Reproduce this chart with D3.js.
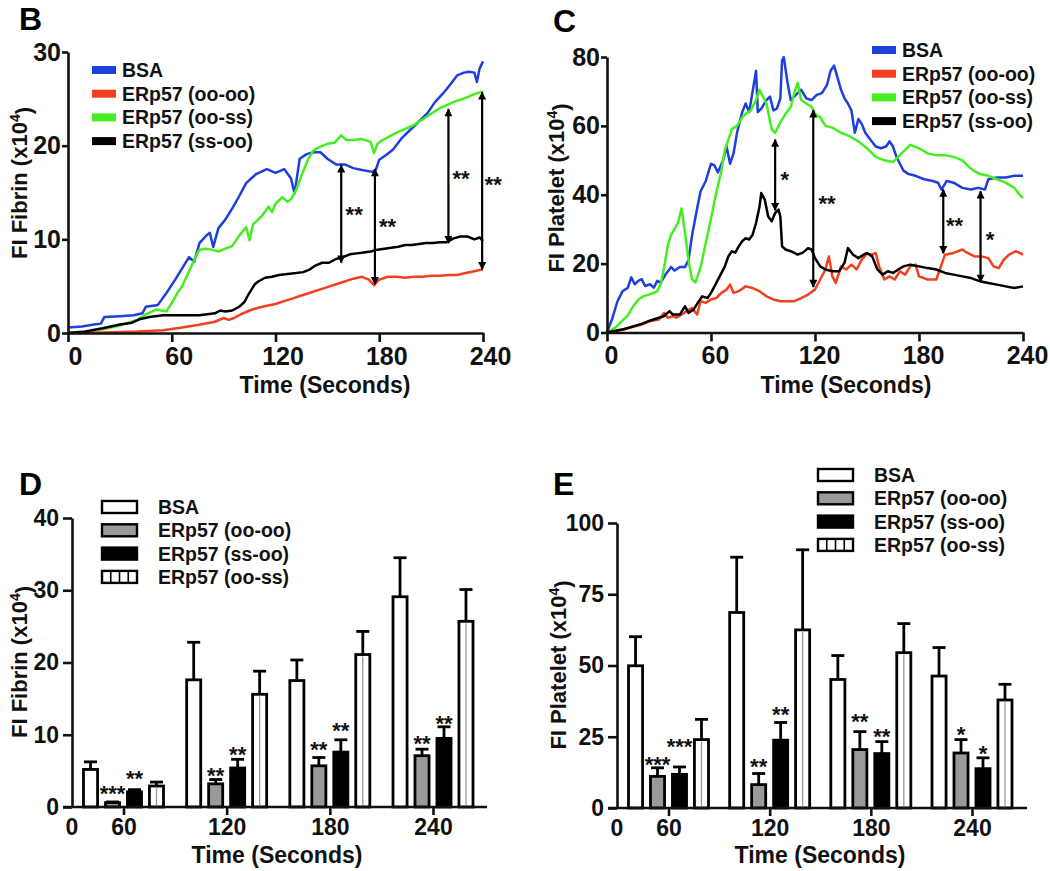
<!DOCTYPE html>
<html><head><meta charset="utf-8">
<script src="https://cdn.jsdelivr.net/npm/d3@7"></script>
<style>
body{margin:0;background:#fff;}
svg{display:block;font-family:"Liberation Sans",Arial,Helvetica,sans-serif;font-weight:bold;}
</style></head><body>
<svg id="chart" width="1050" height="871"></svg>
<script>
// ---------------- DATA ----------------
const timeTicks = [0, 60, 120, 180, 240];
const lineSeriesNames = ["BSA", "ERp57 (oo-oo)", "ERp57 (oo-ss)", "ERp57 (ss-oo)"];
const lineColors = ["#1e3fdc", "#f2401f", "#45ee20", "#000000"];

// Panel B: FI Fibrin (x10^4) vs time  [seconds, value]
const fibrinBSA = [[0,0.6],[8,0.7],[15,0.9],[19,1.0],[21,1.7],[30,1.8],[38,1.9],[43,2.1],[45,2.8],[52,3.0],[57,4.3],[62,5.7],[66,6.9],[70,8.1],[73,7.6],[76,9.6],[80,10.4],[82,10.7],[84,9.2],[87,11.2],[91,12.1],[95,13.3],[99,14.6],[103,16.0],[109,17.0],[115,17.5],[120,17.1],[125,17.5],[129,16.5],[131,14.9],[134,18.6],[138,19.1],[142,19.3],[146,19.3],[150,18.6],[155,18.0],[160,18.0],[165,17.6],[170,17.4],[176,17.2],[178,17.4],[180,18.5],[184,19.0],[188,19.6],[193,20.8],[198,21.7],[203,22.6],[208,23.5],[212,24.6],[217,25.6],[221,26.5],[225,27.5],[229,27.8],[232,27.9],[235,27.8],[236.5,26.8],[238,28.2],[240,29.0]];
const fibrinOOOO = [[0,0],[20,0.05],[40,0.15],[55,0.3],[65,0.55],[75,0.85],[85,1.2],[90,1.6],[93,1.4],[96,1.6],[100,2.0],[105,2.4],[110,2.7],[115,2.9],[120,3.1],[125,3.4],[130,3.7],[135,4.0],[140,4.3],[145,4.6],[150,4.9],[155,5.2],[160,5.5],[165,5.8],[170,6.0],[174,5.7],[177,5.1],[180,5.7],[185,6.0],[190,6.0],[195,5.9],[200,6.0],[205,6.0],[210,6.1],[215,6.1],[220,6.2],[225,6.2],[230,6.4],[235,6.6],[240,6.8]];
const fibrinOOSS = [[0,0],[10,0.1],[20,0.4],[30,0.8],[40,1.4],[45,2.0],[51,2.5],[54,2.4],[57,2.3],[60,3.2],[63,4.2],[66,5.0],[70,6.6],[73,7.8],[76,8.9],[80,9.0],[83,8.9],[87,8.7],[91,9.0],[95,9.3],[99,10.4],[103,11.3],[105,9.9],[107,11.6],[110,12.1],[113,12.7],[116,13.5],[118,12.9],[120,13.8],[124,14.5],[127,14.0],[129,14.3],[132,15.3],[135,16.8],[139,18.6],[142,19.5],[146,19.9],[150,20.2],[154,20.3],[158,21.1],[161,20.6],[165,20.6],[170,20.7],[175,20.4],[177,19.2],[179,20.2],[181,20.5],[186,21.0],[190,21.4],[195,21.8],[200,22.2],[205,22.8],[210,23.4],[215,24.0],[220,24.4],[225,24.8],[230,25.1],[235,25.5],[240,25.8]];
const fibrinSSOO = [[0,0],[10,0.15],[20,0.5],[30,0.9],[37,1.1],[42,1.5],[47,1.7],[55,1.9],[65,1.9],[76,1.9],[85,2.1],[88,2.4],[91,2.3],[95,2.4],[99,2.8],[102,3.3],[104,4.0],[106,4.6],[108,5.2],[110,5.5],[114,5.9],[118,6.0],[122,6.2],[127,6.3],[132,6.4],[136,6.5],[140,6.8],[143,7.2],[147,7.5],[151,7.5],[155,7.9],[159,8.1],[163,8.4],[167,8.5],[171,8.6],[175,8.7],[179,8.9],[183,9.0],[187,9.1],[191,9.2],[195,9.4],[199,9.4],[203,9.5],[207,9.6],[211,9.6],[215,9.7],[219,9.7],[223,10.1],[227,10.3],[231,10.3],[235,10.0],[238,10.2],[240,9.8]];
// arrows: [time, top value, bottom value]; stars: [time, value, label]
const fibrinArrows = [[158,17.9,7.5],[177.5,17.5,5.2],[220,23.9,9.6],[239.5,25.7,6.8]];
const fibrinLineStars = [[165.5,13.1,"**"],[184.8,11.9,"**"],[227.3,17.0,"**"],[246,16.3,"**"]];

// Panel C: FI Platelet (x10^4) vs time
const plateletBSA = [[0,0],[3,4],[6,9],[9,12],[12,13],[14,16],[16,14],[18,15],[20,15.5],[22,13.5],[25,14],[27,13],[29,15],[31,14.5],[34,17],[37,19],[39,18],[42,19],[45,19],[47,21],[49,28],[52,36],[54,41],[57,44],[60,49],[62,48.5],[64,46.5],[67,50],[69,54],[71,49],[73,52],[75,58],[78,64],[80,66.5],[82,64],[84,70],[86,76],[87,64],[89,65],[92,67.5],[94,68.5],[96,64.5],[98,65],[100,68],[101,79],[102,80],[104,73],[106,67.5],[109,69],[112,70.5],[115,68],[118,67.5],[121,69],[124,69.5],[127,72],[129,76],[131,77.5],[133,74],[135,70.5],[137,68],[139,66.5],[141,64.5],[143,58],[145,62],[147,60.5],[149,58],[152,56],[155,54],[158,53.5],[161,54],[163,55.5],[165,54],[167,51],[169,49],[171,47],[174,46],[178,45.5],[183,44.5],[188,44],[191,43.5],[193,41.5],[196,44],[200,43.5],[205,42],[210,41.5],[214,42],[218,41.5],[220,44.5],[225,45],[230,45],[235,45.5],[240,45.5]];
const plateletOOOO = [[0,0],[10,0.9],[20,2.3],[25,3.3],[30,3.8],[33,5.7],[35,4.3],[38,4.7],[40,4.3],[43,5.2],[46,6.2],[49,7.1],[52,5.2],[54,9.1],[57,8.6],[60,9.6],[63,10.0],[66,11.5],[69,12.5],[71,13.9],[73,11.5],[76,12.0],[80,13.4],[84,12.9],[88,12.0],[92,10.5],[96,9.6],[100,9.1],[104,9.1],[108,9.1],[112,10.0],[116,11.0],[120,12.5],[123,15.4],[126,18.3],[128,22.1],[130,16.3],[132,14.4],[135,19.2],[138,18.3],[141,19.7],[144,18.3],[147,21.2],[150,22.9],[153,22.6],[155,23.1],[157,19.2],[160,15.4],[163,16.3],[166,15.4],[169,17.8],[172,16.8],[175,19.2],[178,19.7],[180,16.3],[185,15.4],[190,15.4],[193,19.7],[195,22.6],[200,23.1],[205,24.1],[208,23.1],[212,22.1],[216,22.1],[220,21.6],[223,19.2],[226,18.7],[229,21.2],[232,22.6],[236,23.6],[240,22.6]];
const plateletOOSS = [[0,0],[5,1.5],[8,3],[12,5],[15,7.5],[18,9.5],[21,10.5],[24,11],[27,11.5],[29,12],[31,14],[33,19],[35,25],[37,28.5],[39,30],[41,32],[43,36],[45,29],[47,21],[49,15.5],[51,14.5],[54,19],[57,26],[60,33],[63,40.5],[66,47],[68,53],[70,56],[72,59],[75,60],[78,62.5],[80,63.5],[83,64.5],[86,67.5],[88,70.5],[90,68.5],[92,66.5],[95,59],[97,58],[100,61],[103,63.5],[106,65.5],[108,69.5],[110,72.5],[112,67.5],[115,66.5],[118,65.5],[120,63.5],[123,62.5],[126,60],[130,59.5],[135,58],[140,57],[145,55.5],[150,53.5],[155,51],[160,50],[165,49.5],[168,51],[171,52.5],[175,54.5],[180,53.5],[185,52],[190,51.5],[195,51.5],[200,51],[205,50],[210,47.5],[215,46],[220,45.5],[225,44.5],[230,43.5],[235,42],[238,40],[240,39]];
const plateletSSOO = [[0,0],[10,1],[20,2.5],[25,3.5],[30,4.3],[33,4.8],[36,6.2],[38,5.2],[42,5.2],[45,7.6],[47,5.7],[50,6.7],[53,9.1],[55,10.5],[58,10],[60,11.5],[62,13.4],[65,16.3],[68,19.2],[70,22.1],[72,23.6],[74,23.2],[76,25],[78,26.5],[80,27.4],[82,27],[84,28.4],[86,31.8],[88,36.6],[89,40.5],[91,38.6],[93,33.7],[95,32.3],[97,34.7],[99,35.7],[100,33.7],[101,25],[103,24.1],[106,23.6],[110,22.6],[113,23.2],[116,24.5],[118,24.1],[120,21.6],[123,19.2],[126,18.3],[130,17.8],[134,17.8],[137,20.2],[139,24.5],[142,22.6],[145,21.6],[148,22.6],[150,23.1],[153,22.1],[156,18.3],[159,16.8],[162,17.8],[165,17.3],[168,18.3],[171,19.2],[175,19.7],[180,19.2],[185,18.7],[190,18.3],[195,17.3],[200,16.8],[205,16.3],[210,15.8],[215,14.9],[220,14.4],[225,13.9],[230,13.4],[235,12.9],[240,13.4]];
const plateletArrows = [[97,56,35.5],[119,64.5,13.2],[194,41.5,23],[215.5,41,14.7]];
const plateletLineStars = [[102.5,45.8,"*"],[127,38.8,"**"],[200.5,32.3,"**"],[221,28.4,"*"]];

// Panels D/E: bar charts
const barGroups = ["60", "120", "180", "240"];
const barTickLabels = ["0", "60", "120", "180", "240"];
const barSeriesNames = ["BSA", "ERp57 (oo-oo)", "ERp57 (ss-oo)", "ERp57 (oo-ss)"];
const fibrinMean = {
  "BSA": [5.2, 17.6, 17.5, 29.1],
  "ERp57 (oo-oo)": [0.6, 3.2, 5.7, 7.1],
  "ERp57 (ss-oo)": [2.1, 5.4, 7.6, 9.5],
  "ERp57 (oo-ss)": [2.9, 15.6, 21.1, 25.7]
};
const fibrinSem = {
  "BSA": [1.05, 5.2, 2.85, 5.4],
  "ERp57 (oo-oo)": [0.1, 0.6, 1.15, 0.9],
  "ERp57 (ss-oo)": [0.3, 1.2, 1.7, 1.6],
  "ERp57 (oo-ss)": [0.55, 3.2, 3.2, 4.4]
};
const plateletMean = {
  "BSA": [49.9, 68.6, 45.1, 46.3],
  "ERp57 (oo-oo)": [11.1, 8.2, 20.5, 19.3],
  "ERp57 (ss-oo)": [11.8, 23.8, 19.1, 13.8],
  "ERp57 (oo-ss)": [24.0, 62.5, 54.5, 37.9]
};
const plateletSem = {
  "BSA": [10.2, 19.4, 8.4, 10.0],
  "ERp57 (oo-oo)": [3.0, 3.9, 6.3, 4.7],
  "ERp57 (ss-oo)": [2.6, 6.2, 4.2, 3.8],
  "ERp57 (oo-ss)": [7.1, 28.1, 10.2, 5.5]
};
// [group, series, label, baseline value]
const fibrinBarStars = [["60","ERp57 (oo-oo)","***",0.8],["60","ERp57 (ss-oo)","**",2.9],["120","ERp57 (oo-oo)","**",3.3],["120","ERp57 (ss-oo)","**",6.2],["180","ERp57 (oo-oo)","**",6.9],["180","ERp57 (ss-oo)","**",9.5],["240","ERp57 (oo-oo)","**",7.75],["240","ERp57 (ss-oo)","**",10.5]];
const plateletBarStars = [["60","ERp57 (oo-oo)","***",12.7],["60","ERp57 (ss-oo)","***",19],["120","ERp57 (oo-oo)","**",12],["120","ERp57 (ss-oo)","**",30.2],["180","ERp57 (oo-oo)","**",27.8],["180","ERp57 (ss-oo)","**",22.5],["240","ERp57 (oo-oo)","*",23.2],["240","ERp57 (ss-oo)","*",16.5]];

// ---------------- DRAWING ----------------
const svg = d3.select("#chart");
svg.append("rect").attr("width", 1050).attr("height", 871).attr("fill", "#fff");

const defs = svg.append("defs");
defs.append("marker").attr("id", "arrowhead")
  .attr("viewBox", "0 0 10 10").attr("refX", 9).attr("refY", 5)
  .attr("markerUnits", "userSpaceOnUse").attr("markerWidth", 9).attr("markerHeight", 8)
  .attr("orient", "auto-start-reverse")
  .append("path").attr("d", "M0,0 L10,5 L0,10 Z").attr("fill", "#000");

const INK = "#111";

function styleAxis(g, fontSize) {
  g.attr("font-family", null).attr("font-size", null);
  g.select(".domain").attr("stroke", INK).attr("stroke-width", 2.6);
  g.selectAll(".tick line").attr("stroke", INK).attr("stroke-width", 2.6);
  g.selectAll(".tick text").attr("fill", INK).style("font-size", fontSize + "px").style("font-weight", "bold");
}

function yTitle(x, y, main) {
  const t = svg.append("text")
    .attr("transform", `translate(${x},${y}) rotate(-90)`)
    .attr("text-anchor", "middle").attr("fill", INK).style("font-size", "22px");
  t.append("tspan").text(main + " (x10");
  t.append("tspan").text("4").attr("dy", "-0.5em").style("font-size", "14px");
  t.append("tspan").text(")").attr("dy", "0.5em");
}
function xTitle(x, y) {
  svg.append("text").attr("x", x).attr("y", y).attr("text-anchor", "middle")
    .attr("fill", INK).style("font-size", "23px").text("Time (Seconds)");
}
function panelLetter(x, y, s) {
  svg.append("text").attr("x", x).attr("y", y).attr("fill", "#000")
    .style("font-size", "32px").text(s);
}

function linePanel(cfg) {
  const x = d3.scaleLinear().domain([0, 240]).range([cfg.x0, cfg.x1]);
  const y = d3.scaleLinear().domain([0, cfg.yMax]).range([cfg.yB, cfg.yT]);
  const g = svg.append("g");

  const order = [0, 2, 1, 3];
  const line = d3.line().x(d => x(d[0])).y(d => y(d[1]));
  order.forEach(i => {
    g.append("path").datum(cfg.series[i]).attr("d", line)
      .attr("fill", "none").attr("stroke", lineColors[i])
      .attr("stroke-width", 2.5).attr("stroke-linejoin", "round");
  });

  const xa = g.append("g").attr("transform", `translate(0,${cfg.yB})`)
    .call(d3.axisBottom(x).tickValues(timeTicks).tickSize(9).tickSizeOuter(0).tickPadding(5));
  styleAxis(xa, 25);
  xa.selectAll(".tick text").attr("dx", cfg.labelDx);
  const ya = g.append("g").attr("transform", `translate(${cfg.x0},0)`)
    .call(d3.axisLeft(y).tickValues(cfg.yTicks).tickSize(6).tickSizeOuter(0).tickPadding(1));
  styleAxis(ya, 25);

  // arrows
  cfg.arrows.forEach(a => {
    g.append("line").attr("x1", x(a[0])).attr("x2", x(a[0]))
      .attr("y1", y(a[1])).attr("y2", y(a[2]))
      .attr("stroke", "#000").attr("stroke-width", 2.2)
      .attr("marker-start", "url(#arrowhead)").attr("marker-end", "url(#arrowhead)");
  });
  cfg.stars.forEach(s => {
    g.append("text").attr("x", x(s[0])).attr("y", y(s[1]) + 12)
      .attr("text-anchor", "middle").attr("fill", INK).style("font-size", "22px").text(s[2]);
  });

  // legend
  lineSeriesNames.forEach((name, i) => {
    const ry = cfg.legY + i * cfg.legStep;
    g.append("rect").attr("x", cfg.legX).attr("y", ry - 4).attr("width", 24).attr("height", 8)
      .attr("fill", lineColors[i]);
    g.append("text").attr("x", cfg.legX + 30).attr("y", ry + 7).attr("fill", INK)
      .style("font-size", "19.5px").text(name);
  });
}

function barPanel(cfg) {
  const xg = d3.scalePoint().domain(barGroups).range([cfg.c0, cfg.c1]);
  const sub = d3.scaleBand().domain(barSeriesNames).range([-40, 40]).paddingInner(0.36);
  const y = d3.scaleLinear().domain([0, cfg.yMax]).range([cfg.yB, cfg.yT]);
  const bw = sub.bandwidth();
  const g = svg.append("g");
  const fills = { "BSA": "#fff", "ERp57 (oo-oo)": "#9a9a9a", "ERp57 (ss-oo)": "#000", "ERp57 (oo-ss)": "#fff" };

  barSeriesNames.forEach(s => {
    barGroups.forEach((grp, gi) => {
      const v = cfg.mean[s][gi], e = cfg.sem[s][gi];
      const bx = xg(grp) + sub(s);
      const cx = bx + bw / 2;
      // error bar (upper only)
      g.append("line").attr("x1", cx).attr("x2", cx).attr("y1", y(v)).attr("y2", y(v + e))
        .attr("stroke", "#000").attr("stroke-width", 2.8);
      g.append("line").attr("x1", cx - 6.5).attr("x2", cx + 6.5).attr("y1", y(v + e)).attr("y2", y(v + e))
        .attr("stroke", "#000").attr("stroke-width", 2.8);
      g.append("rect").attr("x", bx).attr("y", y(v)).attr("width", bw).attr("height", y(0) - y(v))
        .attr("fill", fills[s]).attr("stroke", "#000").attr("stroke-width", 2.8);
      if (s === "ERp57 (oo-ss)") {
        g.append("line").attr("x1", cx).attr("x2", cx).attr("y1", y(v) + 2).attr("y2", y(0) - 1)
          .attr("stroke", "#9a9a9a").attr("stroke-width", 1.3);
      }
    });
  });

  cfg.stars.forEach(st => {
    const cx = xg(st[0]) + sub(st[1]) + bw / 2;
    g.append("text").attr("x", cx).attr("y", y(st[3])).attr("text-anchor", "middle")
      .attr("fill", INK).style("font-size", "22px").text(st[2]);
  });

  // axes
  g.append("line").attr("x1", cfg.xa0).attr("x2", cfg.xa1).attr("y1", cfg.yB).attr("y2", cfg.yB)
    .attr("stroke", INK).attr("stroke-width", 2.6);
  const xa = g.append("g").attr("transform", `translate(0,${cfg.yB})`)
    .call(d3.axisBottom(xg).tickSize(8).tickSizeOuter(0).tickPadding(4).tickFormat((d, i) => barTickLabels[i + 1]));
  styleAxis(xa, 23);
  xa.select(".domain").remove();
  g.append("text").attr("x", cfg.yAxisX).attr("y", cfg.yB + 12).attr("dy", "0.71em")
    .attr("text-anchor", "middle").attr("fill", INK).style("font-size", "23px").text(barTickLabels[0]);
  const ya = g.append("g").attr("transform", `translate(${cfg.yAxisX},0)`)
    .call(d3.axisLeft(y).tickValues(cfg.yTicks).tickSize(9).tickSizeOuter(0).tickPadding(4));
  styleAxis(ya, 23);

  // legend
  barSeriesNames.forEach((name, i) => {
    const ry = cfg.legY + i * cfg.legStep;
    g.append("rect").attr("x", cfg.legX).attr("y", ry - 6).attr("width", 35).attr("height", 12)
      .attr("fill", fills[name]).attr("stroke", "#000").attr("stroke-width", 2.4);
    if (name === "ERp57 (oo-ss)") {
      [1, 2, 3].forEach(k => {
        g.append("line").attr("x1", cfg.legX + k * 35 / 4).attr("x2", cfg.legX + k * 35 / 4)
          .attr("y1", ry - 6).attr("y2", ry + 6).attr("stroke", "#000").attr("stroke-width", 1.6);
      });
    }
    g.append("text").attr("x", cfg.legX + 56).attr("y", ry + 7).attr("fill", INK)
      .style("font-size", "19.5px").text(name);
  });
}

// Panel B
panelLetter(19, 30, "B");
linePanel({
  x0: 68, x1: 483, yB: 333, yT: 52, yMax: 30, yTicks: [0, 10, 20, 30], labelDx: 7,
  series: [fibrinBSA, fibrinOOOO, fibrinOOSS, fibrinSSOO],
  arrows: fibrinArrows, stars: fibrinLineStars,
  legX: 92, legY: 70, legStep: 23.7
});
yTitle(27, 183, "FI Fibrin");
xTitle(325, 393);

// Panel C
panelLetter(553, 32, "C");
linePanel({
  x0: 607, x1: 1023, yB: 332.5, yT: 57, yMax: 80, yTicks: [0, 20, 40, 60, 80], labelDx: 4,
  series: [plateletBSA, plateletOOOO, plateletOOSS, plateletSSOO],
  arrows: plateletArrows, stars: plateletLineStars,
  legX: 872, legY: 50, legStep: 23.7
});
yTitle(564, 188, "FI Platelet");
xTitle(846, 393);

// Panel D
panelLetter(19, 495, "D");
barPanel({
  c0: 123.5, c1: 433, yAxisX: 72, xa0: 63, xa1: 487, yB: 807, yT: 518, yMax: 40,
  yTicks: [0, 10, 20, 30, 40], mean: fibrinMean, sem: fibrinSem, stars: fibrinBarStars,
  legX: 102, legY: 507, legStep: 23.3
});
yTitle(27, 662, "FI Fibrin");
xTitle(277, 863);

// Panel E
panelLetter(553, 495, "E");
barPanel({
  c0: 668.5, c1: 972, yAxisX: 617, xa0: 608, xa1: 1027, yB: 808, yT: 523, yMax: 100,
  yTicks: [0, 25, 50, 75, 100], mean: plateletMean, sem: plateletSem, stars: plateletBarStars,
  legX: 818, legY: 475, legStep: 23.3
});
yTitle(566, 665, "FI Platelet");
xTitle(820, 863);
</script>
</body></html>
